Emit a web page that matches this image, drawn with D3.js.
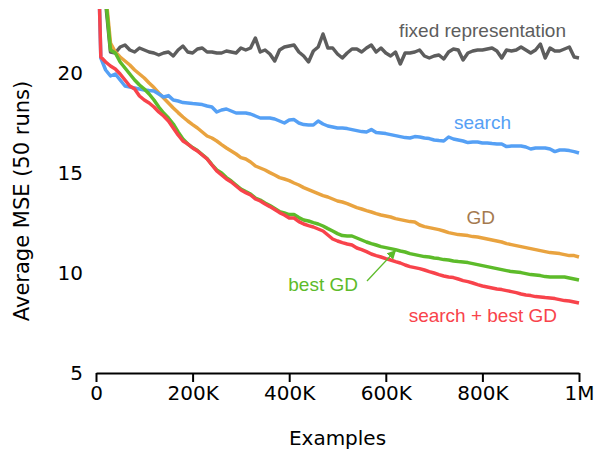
<!DOCTYPE html>
<html><head><meta charset="utf-8">
<script src="https://cdn.jsdelivr.net/npm/d3@7"></script>
<style>body{margin:0;background:#fff}svg{display:block}</style>
</head><body>
<script>
const examples = d3.range(0, 1000001, 10000);
const fixedRep = [30,27,23.5,21.05,21.0,21.3,21.4,21.15,21.05,21.25,21.15,21.05,21.0,20.9,21.0,21.05,20.85,21.15,21.35,21.05,21.0,21.2,21.25,21.05,21.05,21.0,21.0,21.1,21.05,21.0,21.25,21.15,21.25,21.75,21.05,21.15,20.95,20.6,21.15,21.3,21.35,21.4,21.05,20.85,20.55,21.1,21.3,21.95,21.25,21.25,20.95,20.75,21.0,21.2,21.2,21.05,21.25,21.4,21.05,21.25,21.0,20.85,21.05,20.45,21.0,21.0,21.05,21.15,20.85,20.75,20.85,20.9,20.7,21.05,21.2,21.15,20.65,21.0,21.1,21.15,21.15,21.2,21.25,21.1,20.75,21.15,21.1,21.15,21.3,21.15,21.0,21.15,21.45,20.75,21.25,21.1,21.1,21.2,21.3,20.8,20.75];
const search = [30,20.75,20.15,19.85,19.95,19.65,19.35,19.3,19.25,19.2,19.15,19.12,19.1,18.95,18.8,18.87,18.65,18.6,18.52,18.5,18.47,18.45,18.42,18.35,18.3,18.05,18.15,18.2,18.1,18.0,18.0,18.0,17.95,17.85,17.75,17.75,17.75,17.7,17.6,17.5,17.65,17.67,17.5,17.42,17.4,17.4,17.6,17.45,17.35,17.3,17.25,17.25,17.22,17.17,17.12,17.07,17.05,17.17,17.02,17.0,16.97,16.92,16.87,16.82,16.77,16.75,16.82,16.8,16.75,16.72,16.65,16.62,16.6,16.8,16.7,16.65,16.6,16.52,16.55,16.55,16.5,16.5,16.47,16.45,16.45,16.32,16.35,16.35,16.35,16.3,16.2,16.25,16.25,16.25,16.2,16.07,16.15,16.15,16.12,16.07,16.0];
const gd = [32,27,24,21.5,21.05,20.8,20.6,20.4,20.15,19.95,19.75,19.5,19.27,19.0,18.75,18.5,18.25,18.02,17.8,17.6,17.42,17.25,17.05,16.85,16.75,16.6,16.42,16.25,16.1,15.95,15.77,15.7,15.55,15.35,15.25,15.15,15.02,14.9,14.77,14.7,14.62,14.5,14.4,14.27,14.17,14.07,13.97,13.87,13.8,13.7,13.6,13.55,13.47,13.37,13.27,13.2,13.12,13.05,12.97,12.9,12.85,12.8,12.72,12.67,12.62,12.57,12.55,12.4,12.32,12.27,12.22,12.17,12.1,12.02,11.97,11.92,11.9,11.87,11.82,11.8,11.75,11.7,11.65,11.6,11.55,11.47,11.42,11.37,11.32,11.27,11.22,11.17,11.12,11.07,11.02,11.0,10.97,10.92,10.87,10.87,10.8];
const bestGd = [32,26,23.8,21.15,21.0,20.55,20.25,19.95,19.65,19.4,19.2,18.95,18.65,18.3,18.0,17.75,17.45,17.05,16.7,16.45,16.27,16.12,15.92,15.72,15.42,15.15,15.0,14.77,14.6,14.4,14.2,14.07,13.95,13.75,13.65,13.5,13.37,13.22,13.07,13.0,12.92,12.92,12.77,12.65,12.6,12.52,12.45,12.35,12.22,12.1,11.97,11.87,11.85,11.85,11.75,11.65,11.55,11.47,11.4,11.32,11.27,11.22,11.17,11.1,11.05,10.97,10.92,10.87,10.82,10.8,10.75,10.72,10.67,10.65,10.6,10.57,10.55,10.52,10.47,10.42,10.37,10.32,10.27,10.22,10.17,10.12,10.07,10.05,10.02,9.97,9.92,9.9,9.87,9.82,9.8,9.8,9.8,9.8,9.75,9.7,9.65];
const searchBestGd = [30,20.8,20.55,20.35,20.2,19.95,19.65,19.35,19.2,18.85,18.65,18.5,18.3,18.05,17.85,17.6,17.25,16.9,16.6,16.45,16.25,16.1,15.9,15.7,15.4,15.1,14.9,14.7,14.55,14.35,14.15,14.02,13.9,13.7,13.6,13.45,13.32,13.17,13.02,12.9,12.75,12.75,12.57,12.45,12.37,12.3,12.2,12.1,11.9,11.7,11.6,11.52,11.45,11.4,11.25,11.17,11.07,10.95,10.87,10.8,10.72,10.65,10.57,10.5,10.4,10.32,10.27,10.22,10.15,10.07,10.0,9.92,9.85,9.8,9.77,9.7,9.62,9.57,9.5,9.42,9.35,9.3,9.25,9.2,9.17,9.12,9.07,9.02,8.95,8.9,8.87,8.82,8.8,8.77,8.75,8.72,8.67,8.62,8.6,8.55,8.5];
const xTickValues = [0, 200000, 400000, 600000, 800000, 1000000];
const xTickLabels = ["0", "200K", "400K", "600K", "800K", "1M"];
const yTickValues = [5, 10, 15, 20];
const seriesNames = ["fixed representation", "GD", "search", "best GD", "search + best GD"];
const seriesColors = ["#5d5d5d", "#e9a33f", "#55a0f5", "#5dbb2a", "#f8434b"];
const labelColors = ["#5d5d5d", "#a57a4f", "#55a0f5", "#5dbb2a", "#f8434b"];
const seriesData = [fixedRep, gd, search, bestGd, searchBestGd];

const W = 598, H = 452;
const axisFont = "'DejaVu Sans', sans-serif";
const labelFont = "'Liberation Sans', Arial, sans-serif";
const svg = d3.select("body").append("svg").attr("width", W).attr("height", H);
const x = d3.scaleLinear().domain([0, 1000000]).range([96, 579]);
const y = d3.scaleLinear().domain([5, 23.2]).range([373, 9]);

const defs = svg.append("defs");
defs.append("clipPath").attr("id", "clip")
  .append("rect").attr("x", x(0)).attr("y", y(23.2)).attr("width", x(1000000) - x(0) + 4).attr("height", y(5) - y(23.2));

const line = d3.line().x((d, i) => x(examples[i])).y(d => y(d));
const g = svg.append("g").attr("clip-path", "url(#clip)");
seriesData.forEach((s, k) => {
  g.append("path").datum(s).attr("d", line).attr("fill", "none")
    .attr("stroke", seriesColors[k]).attr("stroke-width", 3.5)
    .attr("stroke-linejoin", "round").attr("stroke-linecap", "butt");
});

// x axis
const xAxis = d3.axisBottom(x).tickValues(xTickValues)
  .tickFormat((d, i) => xTickLabels[i]).tickSize(9).tickSizeOuter(0).tickPadding(4);
const gx = svg.append("g").attr("transform", `translate(0,${y(5)})`).call(xAxis);
gx.select(".domain").attr("stroke", "#000").attr("stroke-width", 2);
gx.selectAll(".tick line").attr("stroke", "#000").attr("stroke-width", 2);
gx.selectAll(".tick text").attr("fill", "#000").style("font-size", "20px").style("font-family", axisFont);

// y tick labels
svg.append("g").selectAll("text").data(yTickValues).join("text")
  .attr("x", 83).attr("y", d => y(d)).attr("dy", "0.36em")
  .attr("text-anchor", "end").attr("fill", "#000")
  .style("font-size", "20px").style("font-family", axisFont).text(d => d);

// axis titles
svg.append("text").attr("x", (x(0) + x(1000000)) / 2).attr("y", 445)
  .attr("text-anchor", "middle").attr("fill", "#000")
  .style("font-size", "20px").style("font-family", axisFont).text("Examples");
svg.append("text").attr("transform", `translate(29,${(y(5)+y(23.2))/2 + 10}) rotate(-90)`)
  .attr("text-anchor", "middle").attr("fill", "#000")
  .style("font-size", "21px").style("font-family", axisFont).text("Average MSE (50 runs)");

// series labels
const labels = [
  {k: 0, x: 566, y: 37},
  {k: 1, x: 495, y: 224},
  {k: 2, x: 511, y: 129},
  {k: 3, x: 358, y: 291},
  {k: 4, x: 557, y: 322}
];
svg.append("g").selectAll("text").data(labels).join("text")
  .attr("x", d => d.x).attr("y", d => d.y).attr("text-anchor", "end")
  .style("font-family", labelFont).style("font-size", "19px")
  .attr("fill", d => labelColors[d.k]).text(d => seriesNames[d.k]);

// arrow for best GD
defs.append("marker").attr("id", "arr").attr("viewBox", "0 0 10 10").attr("refX", 9).attr("refY", 5)
  .attr("markerWidth", 7).attr("markerHeight", 7).attr("orient", "auto")
  .append("path").attr("d", "M0,0 L10,5 L0,10 z").attr("fill", seriesColors[3]);
svg.append("line").attr("x1", 367).attr("y1", 281).attr("x2", x(620000)).attr("y2", y(bestGd[62]) + 1)
  .attr("stroke", seriesColors[3]).attr("stroke-width", 1.3).attr("marker-end", "url(#arr)");
</script>
</body></html>
